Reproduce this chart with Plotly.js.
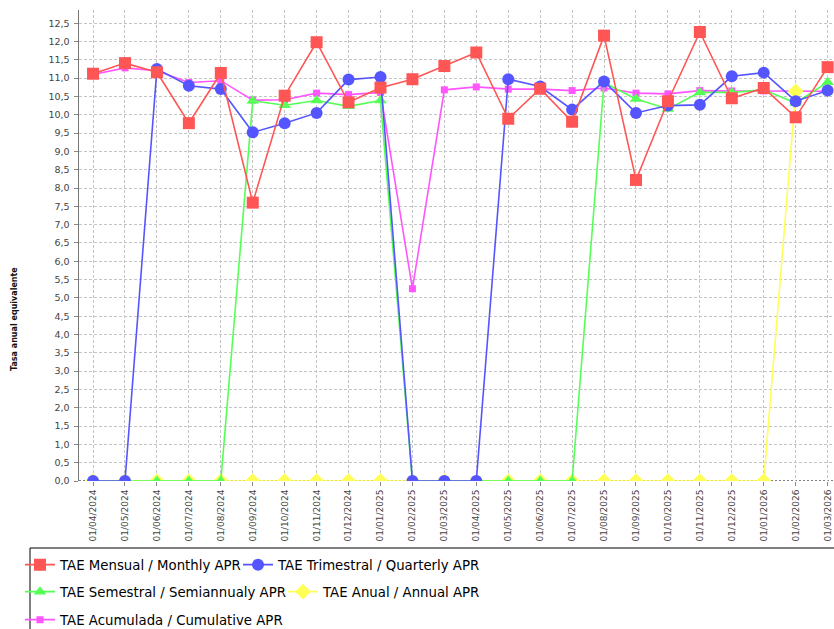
<!DOCTYPE html>
<html>
<head>
<meta charset="utf-8">
<script src="https://cdn.plot.ly/plotly-3.0.1.min.js"></script>
<style>html,body{margin:0;padding:0;background:#fff;}#chart{width:834px;height:629px;}</style>
</head>
<body>
<div id="chart"></div>
<script>
const categories = ["01/04/2024","01/05/2024","01/06/2024","01/07/2024","01/08/2024","01/09/2024","01/10/2024","01/11/2024","01/12/2024","01/01/2025","01/02/2025","01/03/2025","01/04/2025","01/05/2025","01/06/2025","01/07/2025","01/08/2025","01/09/2025","01/10/2025","01/11/2025","01/12/2025","01/01/2026","01/02/2026","01/03/2026"];
const mensual = [11.12, 11.41, 11.16, 9.77, 11.14, 7.60, 10.52, 11.98, 10.34, 10.74, 10.97, 11.33, 11.70, 9.89, 10.71, 9.81, 12.16, 8.22, 10.37, 12.26, 10.45, 10.73, 9.93, 11.30];
const trimestral = [0, 0, 11.25, 10.79, 10.70, 9.52, 9.77, 10.05, 10.96, 11.03, 0, 0, 0, 10.97, 10.77, 10.14, 10.91, 10.05, 10.25, 10.27, 11.05, 11.15, 10.37, 10.66];
const semestral = [0, 0, 0, 0, 0, 10.38, 10.26, 10.39, 10.23, 10.39, 0, 0, 0, 0, 0, 0, 10.88, 10.43, 10.16, 10.61, 10.61, 10.68, 10.32, 10.89];
const anual = [0, 0, 0, 0, 0, 0, 0, 0, 0, 0, 0, 0, 0, 0, 0, 0, 0, 0, 0, 0, 0, 0, 10.64, null];
const acumulada = [11.10, 11.28, 11.20, 10.88, 10.93, 10.40, 10.41, 10.59, 10.55, 10.61, 5.25, 10.68, 10.76, 10.70, 10.70, 10.66, 10.73, 10.59, 10.57, 10.66, 10.65, 10.65, 10.64, 10.64];
const seriesNames = ["TAE Mensual / Monthly APR", "TAE Trimestral / Quarterly APR", "TAE Semestral / Semiannualy APR", "TAE Anual / Annual APR", "TAE Acumulada / Cumulative APR"];
const yTitle = "Tasa anual equivalente";

const FONT = "DejaVu Sans";
const W = 834, H = 629, ML = 79, MR = 0, MT = 10, MB = 148;
const PW = W - ML - MR, PH = H - MT - MB;
const px = v => (v - ML) / PW;
const py = v => (H - MB - v) / PH;

function tr(y, name, color, symbol, size, legend) {
  return {
    type: "scatter", mode: "lines+markers", x: categories, y: y, name: name,
    line: {color: color, width: 1.6},
    marker: {color: color, symbol: symbol, size: size},
    legend: legend, connectgaps: false, hoverinfo: "x+y+name"
  };
}

const data = [
  tr(acumulada, seriesNames[4], "#FF55FF", "square", 7, "legend5"),
  tr(anual, seriesNames[3], "#FFFF55", "diamond", 12, "legend4"),
  tr(semestral, seriesNames[2], "#55FF55", "triangle-up", 11, "legend3"),
  tr(trimestral, seriesNames[1], "#5555FF", "circle", 12, "legend2"),
  tr(mensual, seriesNames[0], "#FF5555", "square", 12, "legend")
];

function leg(xp, yp) {
  return {x: px(xp), y: py(yp), xanchor: "left", yanchor: "middle", orientation: "h",
    bgcolor: "rgba(0,0,0,0)", borderwidth: 0, font: {family: FONT, size: 13.3, color: "#000"}};
}

const layout = {
  width: W, height: H,
  margin: {l: ML, r: MR, t: MT, b: MB, pad: 0, autoexpand: false},
  paper_bgcolor: "#fff", plot_bgcolor: "#fff",
  separators: ",.",
  font: {family: FONT, color: "#444"},
  showlegend: true,
  xaxis: {
    type: "category", range: [-0.44, 23.2], tickangle: -90,
    tickfont: {family: FONT, size: 9, color: "#444"},
    showgrid: true, gridcolor: "#c4c4c4", griddash: "3px,2px", gridwidth: 1,
    ticks: "outside", ticklen: 4, tickcolor: "#888", showline: false, zeroline: false
  },
  yaxis: {
    range: [0, 12.86], dtick: 0.5, tick0: 0, tickformat: ".1f",
    tickfont: {family: FONT, size: 9.5, color: "#444"},
    showgrid: true, gridcolor: "#c4c4c4", griddash: "3px,2px", gridwidth: 1,
    ticks: "outside", ticklen: 4, tickcolor: "#888", ticklabelstandoff: 2,
    showline: true, linecolor: "#777", linewidth: 1.5, zeroline: false
  },
  legend: leg(20, 565),
  legend2: leg(238, 565),
  legend3: leg(20, 592),
  legend4: leg(283, 592),
  legend5: leg(20, 620),
  shapes: [
    {type: "line", xref: "paper", yref: "y", x0: 0, x1: 1, y0: 0, y1: 0, layer: "below",
     line: {color: "#555", width: 1.5, dash: "2px,2px"}},
    {type: "rect", xref: "paper", yref: "paper", x0: px(30), x1: px(860), y0: py(548), y1: py(660),
     line: {color: "#000", width: 1}, fillcolor: "rgba(0,0,0,0)"}
  ],
  annotations: [
    {xref: "paper", yref: "paper", x: px(14), y: py(319), xanchor: "center", yanchor: "middle",
     text: "<b>" + yTitle + "</b>", textangle: -90, showarrow: false,
     font: {family: FONT, size: 8, color: "#111"}}
  ]
};

Plotly.newPlot("chart", data, layout, {displayModeBar: false, staticPlot: true});
</script>
</body>
</html>
